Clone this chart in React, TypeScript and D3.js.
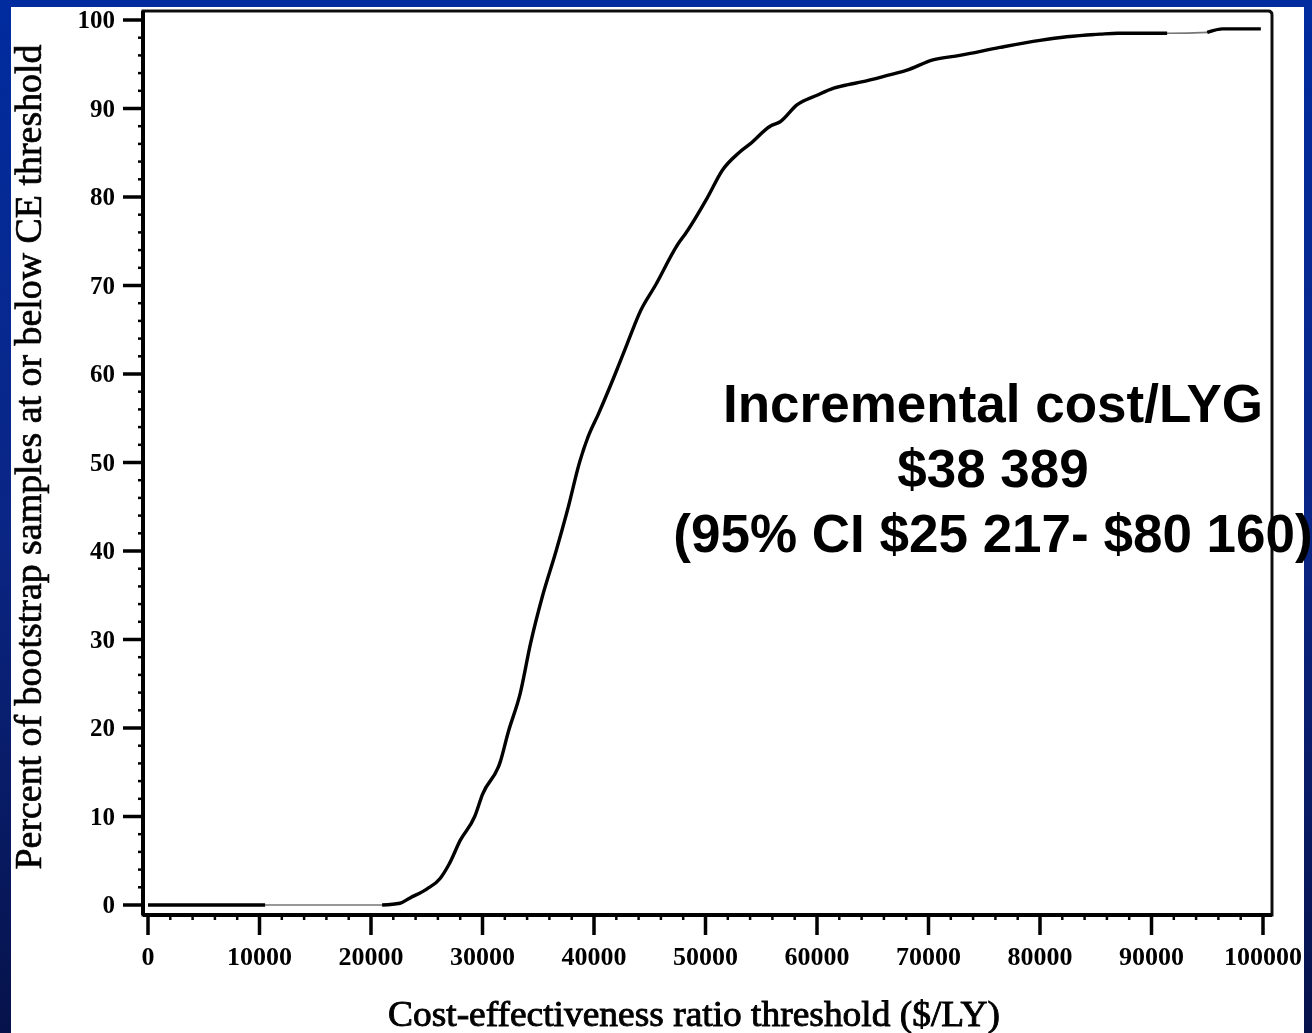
import React, { useEffect, useRef } from "react";
import * as d3 from "d3";

// Cost-effectiveness acceptability curve: threshold ($/LY) vs % of bootstrap samples
const thresholds = [
  0, 10000, 21000, 22600, 23500, 25000, 26200, 27000, 28000, 29300, 30000, 31600,
  32300, 33400, 34300, 35400, 36600, 37700, 38700, 39500, 40400, 41900, 43000,
  44200, 45500, 47700, 48000, 50200, 51500, 53000, 54000, 55800, 56700, 58200,
  60000, 61500, 62800, 64000, 66500, 68000, 70400, 72800, 76400, 80000, 82400,
  85400, 87000, 91500, 95000, 96400, 99800,
];
const percentBelow = [
  0, 0, 0, 0.2, 0.8, 1.8, 3.0, 4.6, 7.3, 10, 12.5, 16.2,
  19.5, 24, 29.5, 35, 40, 45, 50, 53, 55.5, 60, 63.5,
  67.2, 70, 75, 75.5, 80, 83, 85, 86, 88, 88.5, 90.4,
  91.5, 92.3, 92.7, 93, 93.8, 94.3, 95.5, 96, 96.9, 97.7, 98.1,
  98.4, 98.5, 98.5, 98.6, 99, 99,
];
const xTicks = [0, 10000, 20000, 30000, 40000, 50000, 60000, 70000, 80000, 90000, 100000];
const yTicks = [0, 10, 20, 30, 40, 50, 60, 70, 80, 90, 100];
// stretches where the plotted line is drawn faint
const faintRanges: [number, number][] = [
  [10500, 21000],
  [91400, 95000],
];

const yTitle = "Percent of bootstrap samples at or below CE threshold";
const xTitle = "Cost-effectiveness ratio threshold ($/LY)";
const noteLines = ["Incremental cost/LYG", "$38 389", "(95% CI $25 217- $80 160)"];

const W = 1312;
const H = 1033;
const SERIF = "'Liberation Serif', 'Times New Roman', serif";

export default function App() {
  const ref = useRef<SVGSVGElement>(null);

  useEffect(() => {
    const svg = d3.select(ref.current);
    svg.selectAll("*").remove();

    const defs = svg.append("defs");
    const grad = defs
      .append("linearGradient")
      .attr("id", "bg")
      .attr("x1", 0)
      .attr("y1", 0)
      .attr("x2", 0)
      .attr("y2", 1);
    grad.append("stop").attr("offset", "0%").attr("stop-color", "#012c9f");
    grad.append("stop").attr("offset", "50%").attr("stop-color", "#0a2686");
    grad.append("stop").attr("offset", "100%").attr("stop-color", "#06124a");
    defs
      .append("filter")
      .attr("id", "soft")
      .append("feGaussianBlur")
      .attr("stdDeviation", 0.6);

    svg.append("rect").attr("width", W).attr("height", H).attr("fill", "url(#bg)");
    svg
      .append("rect")
      .attr("x", 11)
      .attr("y", 7)
      .attr("width", 1293)
      .attr("height", H - 7)
      .attr("fill", "#ffffff");

    const x = d3.scaleLinear().domain([0, 100000]).range([148, 1263]);
    const y = d3.scaleLinear().domain([0, 100]).range([905, 20]);

    const g = svg.append("g").attr("filter", "url(#soft)");

    // frame
    const left = 143;
    const top = 11;
    const right = 1272;
    const bottom = 915;
    g.append("path")
      .attr("d", `M${left},${bottom} V${top} H${right - 4} Q${right},${top} ${right},${top + 4} V${bottom} Z`)
      .attr("fill", "none")
      .attr("stroke", "#111")
      .attr("stroke-width", 3);
    g.append("line")
      .attr("x1", left)
      .attr("x2", right)
      .attr("y1", bottom)
      .attr("y2", bottom)
      .attr("stroke", "#000")
      .attr("stroke-width", 4);
    g.append("line")
      .attr("x1", left)
      .attr("x2", left)
      .attr("y1", top)
      .attr("y2", bottom)
      .attr("stroke", "#000")
      .attr("stroke-width", 4);

    // y axis ticks
    const yMinor = d3.range(0, 100.1, 2).filter((v) => v % 10 !== 0);
    g.selectAll(".ymin")
      .data(yMinor)
      .join("line")
      .attr("x1", left - 5)
      .attr("x2", left)
      .attr("y1", (d) => y(d))
      .attr("y2", (d) => y(d))
      .attr("stroke", "#000")
      .attr("stroke-width", 2.5);
    g.selectAll(".ymaj")
      .data(yTicks)
      .join("line")
      .attr("x1", left - 20)
      .attr("x2", left)
      .attr("y1", (d) => y(d))
      .attr("y2", (d) => y(d))
      .attr("stroke", "#000")
      .attr("stroke-width", 3.5);
    g.selectAll(".ylab")
      .data(yTicks)
      .join("text")
      .attr("x", 115)
      .attr("y", (d) => y(d) + 8)
      .attr("text-anchor", "end")
      .attr("font-family", SERIF)
      .attr("font-weight", "bold")
      .attr("font-size", 25)
      .attr("fill", "#000")
      .text((d) => String(d));

    // x axis ticks
    const xMinor = d3.range(0, 100001, 2000).filter((v) => v % 10000 !== 0);
    g.selectAll(".xmin")
      .data(xMinor)
      .join("line")
      .attr("x1", (d) => x(d))
      .attr("x2", (d) => x(d))
      .attr("y1", bottom)
      .attr("y2", bottom + 5)
      .attr("stroke", "#000")
      .attr("stroke-width", 2.5);
    g.selectAll(".xmaj")
      .data(xTicks)
      .join("line")
      .attr("x1", (d) => x(d))
      .attr("x2", (d) => x(d))
      .attr("y1", bottom)
      .attr("y2", bottom + 20)
      .attr("stroke", "#000")
      .attr("stroke-width", 3.5);
    g.selectAll(".xlab")
      .data(xTicks)
      .join("text")
      .attr("x", (d) => x(d))
      .attr("y", 965)
      .attr("text-anchor", "middle")
      .attr("font-family", SERIF)
      .attr("font-weight", "bold")
      .attr("font-size", 26)
      .attr("fill", "#000")
      .text((d) => d3.format("d")(d));

    // titles
    g.append("text")
      .attr("transform", `translate(41,${457}) rotate(-90)`)
      .attr("text-anchor", "middle")
      .attr("font-family", SERIF)
      .attr("font-size", 37)
      .attr("stroke", "#000")
      .attr("stroke-width", 0.7)
      .attr("fill", "#000")
      .attr("textLength", 825)
      .attr("lengthAdjust", "spacingAndGlyphs")
      .text(yTitle);
    g.append("text")
      .attr("x", 694)
      .attr("y", 1026)
      .attr("text-anchor", "middle")
      .attr("font-family", SERIF)
      .attr("font-size", 36)
      .attr("stroke", "#000")
      .attr("stroke-width", 0.9)
      .attr("fill", "#000")
      .attr("textLength", 612)
      .attr("lengthAdjust", "spacingAndGlyphs")
      .text(xTitle);

    // the curve
    const pts = thresholds.map((t, i) => [t, percentBelow[i]] as [number, number]);
    const line = d3
      .line<[number, number]>()
      .curve(d3.curveMonotoneX)
      .x((d) => x(d[0]))
      .y((d) => y(d[1]));
    g.append("path")
      .attr("d", line(pts))
      .attr("fill", "none")
      .attr("stroke", "#777")
      .attr("stroke-width", 1.6);

    // solid pieces: add range edges and midpoints so faint stretches become gaps
    const inFaint = (t: number) => faintRanges.some(([a, b]) => t > a && t < b);
    const extra = faintRanges.flatMap(([a, b]) => [a, (a + b) / 2, b]);
    const allX = Array.from(new Set([...thresholds, ...extra])).sort((a, b) => a - b);
    const interp = d3.scaleLinear().domain(thresholds).range(percentBelow);
    const dense = allX.map((t) => [t, interp(t)] as [number, number]);
    const solid = d3
      .line<[number, number]>()
      .curve(d3.curveMonotoneX)
      .defined((d) => !inFaint(d[0]))
      .x((d) => x(d[0]))
      .y((d) => y(d[1]));
    g.append("path")
      .attr("d", solid(dense))
      .attr("fill", "none")
      .attr("stroke", "#000")
      .attr("stroke-width", 3.4)
      .attr("stroke-linejoin", "round");

    // annotation
    const note = svg
      .append("text")
      .attr("text-anchor", "middle")
      .attr("font-family", "'Liberation Sans', Arial, sans-serif")
      .attr("font-weight", "bold")
      .attr("font-size", 53)
      .attr("fill", "#000");
    noteLines.forEach((s, i) => {
      note
        .append("tspan")
        .attr("x", 993)
        .attr("y", 422 + i * 65)
        .text(s);
    });
  }, []);

  return (
    <svg
      ref={ref}
      width={W}
      height={H}
      style={{ position: "absolute", left: 0, top: 0, display: "block" }}
    />
  );
}
